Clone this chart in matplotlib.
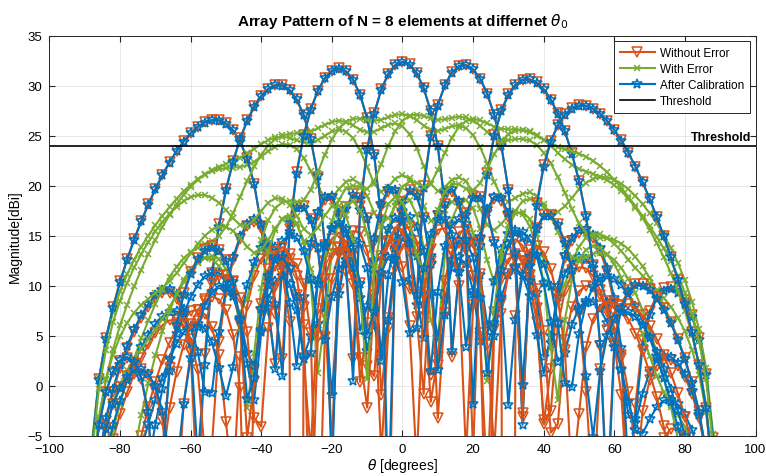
import numpy as np
import matplotlib
matplotlib.use("Agg")
import matplotlib.pyplot as plt

# Scan grid and steering angles (degrees)
theta_deg = np.arange(-90, 91, 2)
steer_deg = [-58.0, -36.5, -18.6, 0.0, 17.7, 36.5, 54.5]

# Array description
n_elem = 8
spacing_wl = 0.5          # element spacing in wavelengths
broadside_gain_dbi = 32.4 # peak gain of the unsteered beam
elem_exp = 1.1            # element pattern ~ cos(theta)^elem_exp
elem_tilt_db = 0.5        # slight left/right asymmetry of the element gain

# Element excitation errors before calibration
err_amp = [0.95, 1.05, 0.9, 1.0, 1.1, 0.95, 1.05, 0.9]
err_phase_deg = [165, 75, 20, 0, 5, 25, 80, 150]

# Residual errors after calibration
cal_amp = [1.03, 0.96, 1.05, 0.97, 1.02, 0.95, 1.04, 0.98]
cal_phase_deg = [3, -6, 5, -4, 7, -3, -5, 4]

ideal_amp = [1.0] * n_elem
ideal_phase_deg = [0.0] * n_elem

threshold_db = 24

C_IDEAL = "#D95319"
C_ERR = "#77AC30"
C_CAL = "#0072BD"


def array_pattern_db(steer, amp, phase_deg):
    th = np.radians(theta_deg)
    n = np.arange(n_elem)
    w = np.asarray(amp) * np.exp(1j * np.radians(phase_deg))
    psi = (2 * np.pi * spacing_wl
           * (np.sin(th)[:, None] - np.sin(np.radians(steer))) * n[None, :])
    af = np.abs((w[None, :] * np.exp(1j * psi)).sum(axis=1))
    elem = np.clip(np.cos(th), 1e-9, None) ** elem_exp
    return (broadside_gain_dbi - 20 * np.log10(n_elem)
            + 20 * np.log10(af * elem + 1e-12) + elem_tilt_db * np.sin(th))


plt.rcParams["font.family"] = ["Liberation Sans", "DejaVu Sans"]
fig = plt.figure(figsize=(7.66, 4.77), dpi=100)
ax = fig.add_axes([0.0646, 0.0845, 0.9217, 0.8385])

h_ideal = h_err = h_cal = None
for s in steer_deg:
    h_ideal, = ax.plot(theta_deg, array_pattern_db(s, ideal_amp, ideal_phase_deg),
                       color=C_IDEAL, lw=1.5, marker="v", ms=7, mfc="none", mew=1.1)
    h_err, = ax.plot(theta_deg, array_pattern_db(s, err_amp, err_phase_deg),
                     color=C_ERR, lw=1.5, marker="x", ms=5, mew=1.1)
    h_cal, = ax.plot(theta_deg, array_pattern_db(s, cal_amp, cal_phase_deg),
                     color=C_CAL, lw=1.5, marker="*", ms=7.5, mfc="none", mew=1.1)

h_thr = ax.axhline(threshold_db, color="black", lw=1.2)
ax.text(81.7, threshold_db + 0.3, "Threshold", fontsize=9, fontweight="bold",
        ha="left", va="bottom")

ax.set_xlim(-100, 100)
ax.set_ylim(-5, 35)
ax.set_xticks(np.arange(-100, 101, 20))
ax.set_yticks(np.arange(-5, 36, 5))
ax.grid(True, color="#e3e3e3", lw=0.6)
ax.set_axisbelow(True)
ax.tick_params(direction="in", top=True, right=True, length=4, labelsize=9.5,
               color="#262626")
ax.tick_params(axis="x", pad=5)
ax.tick_params(axis="y", pad=5)
for sp in ax.spines.values():
    sp.set_color("#262626")
    sp.set_linewidth(0.7)

ax.set_xlabel(r"$\theta$ [degrees]", fontsize=10, labelpad=1)
ax.set_ylabel("Magnitude[dBi]", fontsize=10)
ax.set_title(r"Array Pattern of N = 8 elements at differnet $\theta_0$",
             fontsize=11, fontweight="bold", pad=8)

leg = ax.legend([h_ideal, h_err, h_cal, h_thr],
                ["Without Error", "With Error", "After Calibration", "Threshold"],
                loc="upper right", bbox_to_anchor=(0.992, 0.987), borderaxespad=0,
                fontsize=8.5, handlelength=3.0, handletextpad=0.4,
                fancybox=False, framealpha=1, edgecolor="#262626",
                borderpad=0.5, labelspacing=0.35)
leg.get_frame().set_linewidth(0.7)

fig.savefig("out.png", dpi=100)
